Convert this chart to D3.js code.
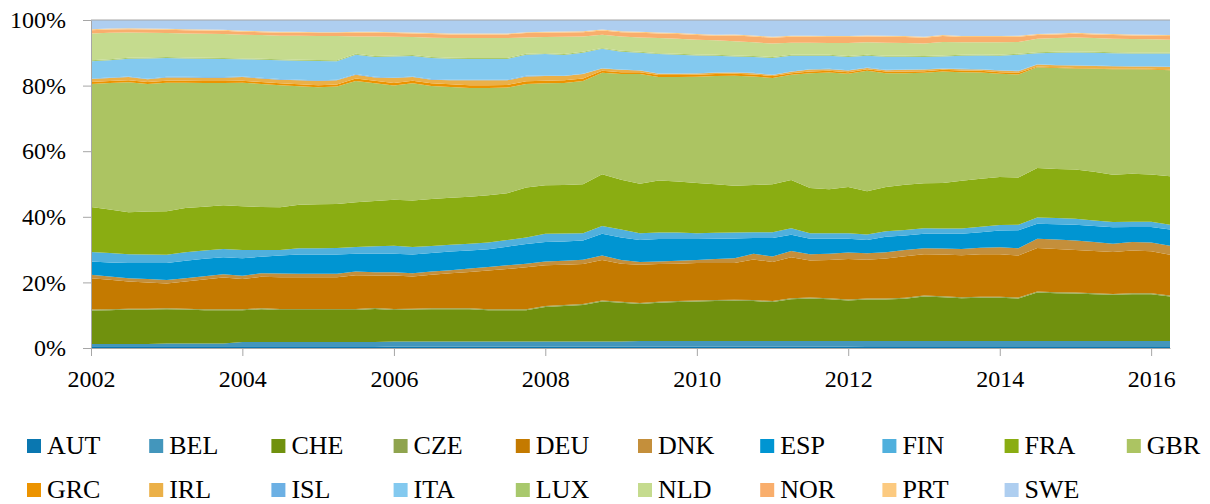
<!DOCTYPE html>
<html>
<head>
<meta charset="utf-8">
<script src="https://cdn.jsdelivr.net/npm/d3@7"></script>
<style>
  body { margin: 0; background: #fff; }
</style>
</head>
<body>
<div class="container"></div>
<script>

// quarterly shares (%), 2002Q1 .. 2016Q2
var AUT = [0.5,0.5,0.5,0.5,0.5,0.5,0.5,0.5,0.5,0.5,0.5,0.5,0.5,0.5,0.5,0.5,
           0.4,0.4,0.4,0.4,0.4,0.4,0.4,0.4,0.4,0.4,0.4,0.4,0.4,0.4,0.4,0.4,0.4,0.4,0.4,0.4,0.4,0.4,0.4,0.4,0.4,
           0.3,0.3,0.3,0.3,0.3,0.3,0.3,0.3,0.3,0.3,0.3,0.3,0.3,0.3,0.3,0.3,0.3];
var BEL = [0.7,0.7,0.7,0.7,0.9,0.9,0.9,0.9,1.3,1.3,1.3,1.3,1.3,1.3,1.3,1.3,
           1.6,1.6,1.6,1.6,1.6,1.6,1.6,1.6,1.6,1.6,1.6,1.6,1.6,
           1.7,1.7,1.7,1.7,1.7,1.7,1.7,1.7,1.7,1.7,1.7,1.7,
           1.8,1.8,1.8,1.8,1.8,1.8,1.8,1.8,1.8,1.8,1.8,1.8,1.8,1.8,1.8,1.8,1.8];
var CHE = [10.2,10.3,10.5,10.5,10.4,10.3,10.1,10.1,9.7,10.0,9.8,9.8,9.8,9.8,9.8,10.1,
           9.6,9.7,9.8,9.8,9.8,9.5,9.5,9.5,10.5,10.8,11.1,12.2,11.8,11.3,11.7,11.9,
           12.1,12.2,12.3,12.2,11.9,12.8,13.0,12.8,12.4,12.7,12.7,12.9,13.6,13.4,13.1,13.2,
           13.2,13.0,14.8,14.6,14.5,14.3,14.1,14.3,14.3,13.6];
var CZE = [0.3,0.3,0.3,0.3,0.3,0.3,0.3,0.3,0.3,0.3,0.3,0.3,0.3,0.3,0.3,0.3,0.3,0.3,0.3,0.3,
           0.3,0.3,0.3,0.3,0.3,0.3,0.3,0.3,0.3,0.3,0.3,0.3,0.3,0.3,0.3,0.3,0.3,0.3,0.3,0.3,
           0.3,0.3,0.3,0.3,0.3,0.3,0.3,0.3,0.3,0.3,0.3,0.3,0.3,0.3,0.3,0.3,0.3,0.3];
var DEU = [9.6,9.0,8.3,8.0,7.6,8.3,9.1,9.7,9.2,9.6,9.7,9.7,9.7,9.7,10.3,9.9,
           10.2,9.8,10.2,10.7,11.1,11.8,12.3,12.8,12.4,12.3,12.2,12.3,11.6,11.7,11.5,11.4,
           11.4,11.3,11.2,12.4,11.9,12.5,11.3,11.6,12.3,11.8,12.2,12.7,12.6,12.7,12.8,13.0,
           13.0,12.8,13.3,13.2,13.0,12.9,12.8,13.0,12.8,12.4];
var DNK = [1.0,1.0,1.0,1.0,1.0,1.0,1.0,1.0,1.0,1.1,1.1,1.0,1.0,1.0,1.1,1.0,
           1.0,1.0,1.0,0.9,1.0,1.1,1.1,1.1,1.2,1.2,1.3,1.4,1.1,
           0.8,0.8,0.9,0.9,1.2,1.5,1.7,1.7,1.9,1.9,1.9,2.0,2.0,1.9,1.9,1.8,1.8,
           1.9,2.0,2.1,2.2,2.8,2.9,2.9,2.7,2.5,2.6,2.7,2.8];
var ESP = [4.1,4.3,4.6,4.9,5.2,5.3,5.3,5.2,5.4,5.0,5.5,5.9,5.9,5.9,5.4,5.6,
           5.6,5.7,5.7,5.7,5.5,5.4,5.7,6.0,5.9,5.9,5.9,6.6,6.9,6.7,6.8,6.6,
           6.4,6.2,6.0,4.8,5.6,4.9,4.7,4.6,4.2,4.0,4.7,4.4,4.4,4.5,4.6,4.7,
           5.1,5.5,4.6,4.6,4.8,4.9,5.0,4.6,4.7,4.9];
var FIN = [2.9,2.9,2.7,2.6,2.5,2.6,2.5,2.5,2.5,2.1,1.7,1.9,1.9,2.0,2.1,2.3,
           2.5,2.3,2.1,2.1,2.1,2.1,2.0,2.0,2.5,2.4,2.2,2.4,2.4,2.1,2.0,2.0,
           1.8,1.8,1.8,1.8,1.8,2.0,1.7,1.7,1.7,1.7,1.7,1.7,1.7,1.6,1.6,1.7,
           1.7,1.7,1.9,1.9,1.8,1.7,1.6,1.6,1.6,1.5];
var FRA = [13.7,13.2,12.8,13.1,13.3,13.5,13.4,13.3,13.3,13.1,13.0,13.3,13.4,13.4,13.6,13.8,
           14.0,14.2,14.3,14.3,14.3,14.4,14.3,15.2,14.8,14.8,14.9,15.8,15.2,15.1,15.9,15.6,
           15.3,14.8,14.3,14.4,14.6,14.7,13.8,13.4,14.1,13.2,13.5,13.8,13.7,13.9,14.6,14.6,
           14.6,14.4,15.1,15.0,15.0,14.8,14.4,14.6,14.4,14.8];
var GBR = [37.5,38.6,39.6,38.9,39.2,38.2,37.7,37.3,37.7,37.5,37.2,36.1,35.7,35.8,37.0,35.9,
           34.8,35.7,34.5,33.8,33.2,32.7,32.2,31.6,31.1,31.1,31.5,30.9,32.2,33.4,31.5,31.8,
           32.4,33.0,33.5,33.1,32.4,32.1,35.0,35.6,34.5,36.7,34.7,34.0,33.7,34.0,33.1,32.4,
           31.5,31.4,30.7,30.8,30.8,31.4,32.2,31.9,32.0,32.3];
var GRC = [0.6,0.6,0.6,0.6,0.6,0.6,0.6,0.6,0.6,0.6,0.6,0.6,0.6,0.6,
           0.8,0.8,0.8,0.8,0.8,0.8,0.8,0.8,0.8,0.8,0.8,0.8,0.8,
           0.6,0.6,0.6,0.6,0.6,0.6,0.6,0.6,0.6,0.6,
           0.5,0.5,0.5,0.5,0.5,0.5,0.5,0.5,0.5,0.5,0.5,0.5,0.5,
           0.2,0.2,0.2,0.2,0.2,0.2,0.2,0.2];
var IRL = [0.9,0.9,1.0,0.8,1.0,1.0,1.0,1.0,1.1,1.1,1.1,1.2,1.3,1.3,1.1,1.0,
           1.5,1.1,1.1,1.2,1.5,1.5,1.4,1.5,1.4,1.3,1.3,0.7,0.7,0.5,0.4,0.4,
           0.4,0.4,0.4,0.4,0.3,0.4,0.6,0.5,0.5,0.4,0.4,0.5,0.5,0.3,0.4,0.4,
           0.5,0.5,0.6,0.6,0.7,0.7,0.7,0.6,0.7,0.8];
var ISL = [0.2,0.2,0.2,0.2,0.2,0.2,0.2,0.2,0.2,0.2,0.2,0.2,0.2,0.2,0.2,0.2,0.2,0.2,0.2,0.2,
           0.2,0.2,0.2,0.2,0.2,
           0.1,0.1,0.1,0.1,0.1,0.1,0.1,0.1,0.1,0.1,0.1,0.1,0.1,0.1,0.1,0.1,0.1,
           0.1,0.1,0.1,0.1,0.1,0.1,0.1,0.1,0.1,0.1,0.1,0.1,0.1,0.1,0.1,0.1];
var ITA = [5.2,5.2,5.4,6.2,5.7,5.6,5.6,5.5,5.2,5.5,5.7,5.8,5.9,5.6,5.9,6.0,
           6.4,6.2,6.4,6.4,6.3,6.3,6.3,6.4,6.5,6.3,6.4,5.9,5.4,5.3,5.9,5.7,
           5.4,5.1,4.8,4.8,5.1,4.8,4.1,4.0,4.0,3.6,4.0,3.9,3.7,3.7,4.0,4.2,
           4.4,4.9,3.4,3.7,3.9,3.9,3.9,3.9,3.9,4.0];
var LUX = [0.3,0.3,0.3,0.3,0.3,0.3,0.3,0.3,0.3,0.3,0.3,0.3,0.3,0.3,0.3,0.3,0.3,0.3,0.3,0.3,
           0.3,0.3,0.3,0.3,0.3,0.3,0.3,0.3,0.3,0.3,0.3,0.3,0.3,0.3,0.3,0.3,0.3,0.3,0.3,0.3,
           0.3,0.3,0.3,0.3,0.3,0.3,0.3,0.3,0.3,0.3,0.3,0.3,0.3,0.3,0.3,0.3,0.3,0.3];
var NLD = [8.2,8.1,7.7,7.5,7.3,7.3,7.3,7.3,7.2,7.2,7.2,7.3,7.3,7.4,5.3,6.0,
           5.7,5.5,5.9,6.0,6.1,6.1,6.1,5.0,4.9,5.3,4.7,4.0,4.4,4.4,4.6,4.6,
           4.5,4.4,4.3,4.2,4.1,3.7,3.7,3.6,4.0,3.8,4.0,3.9,3.8,4.1,3.8,3.7,
           3.8,3.6,4.1,4.2,4.3,4.2,4.1,4.1,4.0,3.9];
var NOR = [1.0,1.0,1.0,1.0,1.0,1.0,1.0,1.0,0.9,0.9,0.9,0.9,0.9,0.9,
           1.1,1.1,1.1,1.1,1.1,1.1,1.1,1.1,1.1,1.3,1.3,1.3,1.3,1.3,1.3,
           1.4,1.4,1.4,1.4,1.4,1.8,1.8,1.8,1.8,1.8,1.8,1.8,1.8,1.8,1.8,1.8,1.8,
           1.6,1.6,1.6,1.6,1.1,1.1,1.1,1.1,1.1,1.1,1.1,1.1];
var PRT = [0.3,0.3,0.3,0.3,0.3,0.3,0.3,0.3,0.3,0.3,0.3,0.3,0.3,0.3,0.3,0.3,0.3,0.3,0.3,0.3,
           0.3,0.3,0.3,0.3,0.3,0.3,0.3,0.3,0.3,0.3,0.3,0.3,0.3,0.3,0.3,0.3,0.3,0.3,0.3,0.3,
           0.3,0.3,0.3,0.3,0.3,0.3,0.3,0.3,0.3,0.3,0.3,0.3,0.3,0.3,0.3,0.3,0.3,0.3];
var SWE = [2.8,2.6,2.5,2.6,2.7,2.8,2.9,3.0,3.3,3.4,3.6,3.6,3.7,3.7,3.6,3.6,
           3.7,3.8,4.0,4.1,4.1,4.1,4.1,3.7,3.6,3.5,3.4,2.9,3.4,3.6,3.8,4.0,
           4.3,4.5,4.4,4.7,5.1,4.8,4.8,4.9,4.9,4.7,4.8,4.9,5.1,4.6,4.9,4.9,
           4.9,4.8,4.3,4.1,3.9,4.1,4.3,4.4,4.5,4.6];

var countries = ['AUT','BEL','CHE','CZE','DEU','DNK','ESP','FIN','FRA','GBR',
                 'GRC','IRL','ISL','ITA','LUX','NLD','NOR','PRT','SWE'];
var seriesValues = [AUT,BEL,CHE,CZE,DEU,DNK,ESP,FIN,FRA,GBR,GRC,IRL,ISL,ITA,LUX,NLD,NOR,PRT,SWE];
var colors = ['#0a77b0','#4396bc','#70910e','#8fa44e','#c47a00','#c48f3b','#0095d2','#50b0dd','#8aad12','#acc462',
              '#ec9300','#ebb048','#6cb0e4','#83c9ef','#a8c86c','#c5db8e','#f9ae6c','#fcca80','#aecef0'];
var yTicks = [0, 0.2, 0.4, 0.6, 0.8, 1];

var serifFont = '"Liberation Serif", "Times New Roman", Times, "DejaVu Serif", serif';

var quarters = d3.timeMonth.range(new Date(2002, 0, 1), new Date(2016, 4, 1), 3);

var rows = quarters.map(function(q, i) {
    var row = { date: q };
    countries.forEach(function(c, j) { row[c] = seriesValues[j][i]; });
    return row;
});

var svg = d3.select('.container')
            .append('svg')
                .attr('width', 1210)
                .attr('height', 504)
                .style('font-family', serifFont);

var x = d3.scaleTime()
          .domain([quarters[0], quarters[quarters.length - 1]])
          .range([91, 1170]);

var y = d3.scaleLinear()
          .domain([0, 1])
          .range([348, 20]);

var stacked = d3.stack()
                .keys(countries)
                .offset(d3.stackOffsetExpand)(rows);

var area = d3.area()
             .x(function(d) { return x(d.data.date); })
             .y0(function(d) { return y(d[0]); })
             .y1(function(d) { return y(d[1]); });

svg.append('g')
    .selectAll('path')
    .data(stacked)
    .enter()
    .append('path')
        .attr('d', area)
        .style('fill', function(d, i) { return colors[i]; });

// top gridline
svg.append('line')
    .attr('x1', x.range()[0])
    .attr('x2', x.range()[1])
    .attr('y1', y(1))
    .attr('y2', y(1))
    .style('stroke', '#a6a6a6')
    .style('stroke-width', 1);

var yAxis = svg.append('g')
    .attr('transform', 'translate(91,0)')
    .call(d3.axisLeft(y)
            .tickValues(yTicks)
            .tickFormat(d3.format('.0%'))
            .tickSize(8)
            .tickSizeOuter(0)
            .tickPadding(17));

var xAxis = svg.append('g')
    .attr('transform', 'translate(0,348)')
    .call(d3.axisBottom(x)
            .ticks(d3.timeYear.every(2))
            .tickFormat(d3.timeFormat('%Y'))
            .tickSize(8)
            .tickSizeOuter(0)
            .tickPadding(14));

[yAxis, xAxis].forEach(function(ax) {
    ax.attr('font-family', null);
    ax.select('.domain').style('stroke', '#a6a6a6');
    ax.selectAll('.tick line').style('stroke', '#a6a6a6');
    ax.selectAll('.tick text')
        .style('font-family', serifFont)
        .style('font-size', '24px')
        .style('fill', '#000');
});

// legend, two rows of ten
var legend = svg.append('g')
    .selectAll('g')
    .data(countries)
    .enter()
    .append('g')
        .attr('transform', function(d, i) {
            return 'translate(' + (27 + 122.2 * (i % 10)) + ',' + (439 + 44 * Math.floor(i / 10)) + ')';
        });

legend.append('rect')
    .attr('width', 14)
    .attr('height', 14)
    .style('fill', function(d, i) { return colors[i]; });

legend.append('text')
    .attr('x', 20)
    .attr('y', 15)
    .style('font-family', serifFont)
    .style('font-size', '26px')
    .style('fill', '#000')
    .text(function(d) { return d; });

</script>
</body>
</html>
